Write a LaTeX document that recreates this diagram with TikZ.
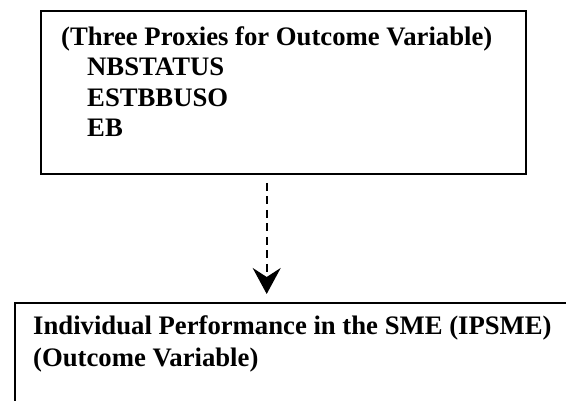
\documentclass[tikz,border=0pt]{standalone}
\usepackage{fontspec}
\setmainfont{Liberation Serif}
\usetikzlibrary{arrows.meta}
\begin{document}
\begin{tikzpicture}[x=1pt,y=1pt,
  boxA/.style={draw=black,line width=2.4pt,rectangle,inner sep=0pt},
  boxB/.style={draw=black,line width=2pt,rectangle,inner sep=0pt},
  txt/.style={inner sep=0pt,font=\fontsize{26.7}{32}\selectfont\bfseries},
  dasharrow/.style={line width=2.3pt,dash pattern=on 8pt off 5.5pt,-{Stealth[length=26pt,width=28pt,inset=9pt]}}]
\useasboundingbox (0,0) rectangle (566,401);
\node[boxA,minimum width=485pt,minimum height=163pt,anchor=north west] (top) at (40,391) {};
\node[txt,anchor=base west] (t1) at (61,355) {(Three Proxies for Outcome Variable)};
\node[txt,anchor=base west] (t2) at (87,325) {NBSTATUS};
\node[txt,anchor=base west] (t3) at (87,294) {ESTBBUSO};
\node[txt,anchor=base west] (t4) at (87,264) {EB};
\node[boxB,minimum width=620pt,minimum height=160pt,anchor=north west] (bot) at (14,99) {};
\node[txt,anchor=base west] (b1) at (33,66) {Individual Performance in the SME (IPSME)};
\node[txt,anchor=base west] (b2) at (33,34) {(Outcome Variable)};
\coordinate (a1) at (266.7,218);
\coordinate (a2) at (266.7,107);
\draw[dasharrow] (a1) -- (a2);
\end{tikzpicture}
\end{document}
